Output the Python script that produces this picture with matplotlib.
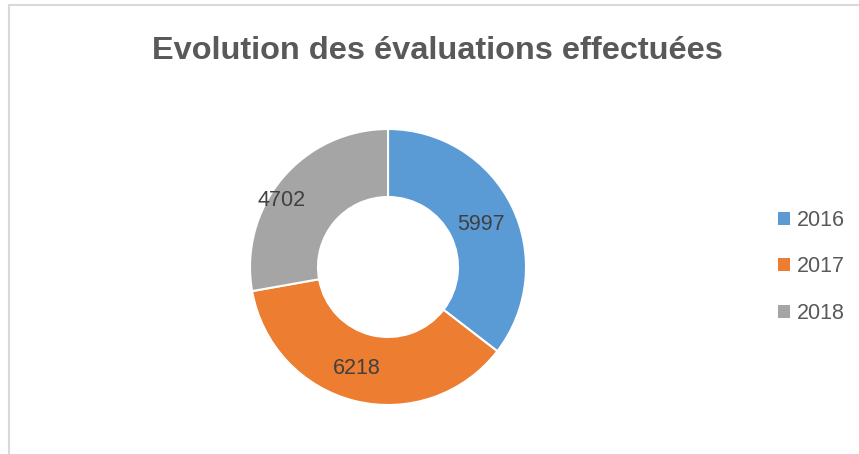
import matplotlib
matplotlib.use("Agg")
import matplotlib.pyplot as plt
from matplotlib.patches import Patch
from matplotlib.lines import Line2D
import numpy as np

years = ["2016", "2017", "2018"]
values = [5997, 6218, 4702]
colors = ["#5B9BD5", "#ED7D31", "#A5A5A5"]

plt.rcParams["font.family"] = ["Liberation Sans", "DejaVu Sans"]

fig = plt.figure(figsize=(8.59, 4.54), dpi=100)

# donut: centre ~ (388, 267) px, outer radius ~138 px
ax = fig.add_axes([(388 - 140) / 859, (454 - 267 - 140) / 454, 280 / 859, 280 / 454])
ax.pie(values, colors=colors, startangle=90, counterclock=False,
       radius=138 / 140, wedgeprops=dict(width=68 / 140, edgecolor="white", linewidth=1.5))
ax.set_xlim(-1, 1)
ax.set_ylim(-1, 1)
ax.set_aspect("equal")

# data labels, nudged like Excel places them
lab_r = [102, 106, 125]
lab_da = [-1.4, -3.2, 8.0]
total = sum(values)
start = 90.0
for v, rr, da in zip(values, lab_r, lab_da):
    ang = np.deg2rad(start - v / total * 360 / 2 + da)
    r = rr / 140
    ax.text(r * np.cos(ang), r * np.sin(ang), str(v), ha="center", va="center",
            fontsize=15.5, color="#404040")
    start -= v / total * 360

fig.text(437 / 859, 1 - 51 / 454, "Evolution des évaluations effectuées", ha="center", va="center",
         fontsize=23.4, fontweight="bold", color="#595959")

handles = [Patch(facecolor=c, edgecolor="none") for c in colors]
leg = fig.legend(handles, years, loc="center left", bbox_to_anchor=(778 / 859, 1 - 267 / 454),
                 frameon=False, fontsize=15.5, labelspacing=1.2, handlelength=0.55, handleheight=0.55,
                 handletextpad=0.35, borderpad=0, borderaxespad=0)
for t in leg.get_texts():
    t.set_color("#595959")

# border of the chart area
fig.add_artist(Line2D([9 / 859, 1], [1 - 5 / 454, 1 - 5 / 454], color="#D9D9D9", lw=1.5))
fig.add_artist(Line2D([9 / 859, 9 / 859], [1 - 5 / 454, 0], color="#D9D9D9", lw=1.5))

fig.savefig("out.png", dpi=100)
